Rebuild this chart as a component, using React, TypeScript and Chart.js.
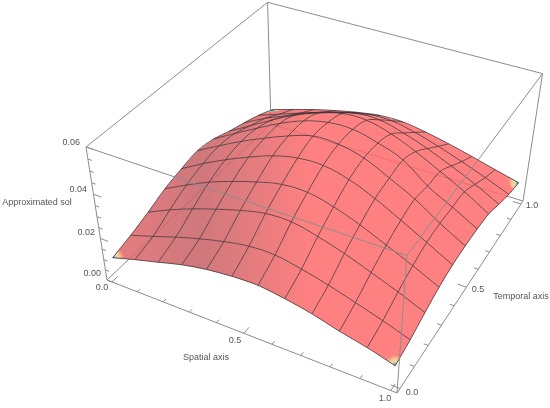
import React, { useEffect, useRef } from "react";
import { Chart, registerables } from "chart.js";

Chart.register(...registerables);

// surface mesh: spatial positions, temporal positions, approximated solution (rows = time)
const spatialMesh = [0, 0.0909, 0.1818, 0.2727, 0.3636, 0.4545, 0.5455, 0.6364, 0.7273, 0.8182, 0.9091, 1];
const temporalMesh = [0, 0.1, 0.2, 0.3, 0.4, 0.5, 0.6, 0.7, 0.8, 0.9, 1];
const solT0 = [0.0101, 0.0134, 0.0164, 0.0195, 0.0216, 0.0228, 0.0231, 0.0215, 0.0192, 0.0159, 0.0132, 0.0097];
const solT1 = [0.0125, 0.016, 0.0197, 0.023, 0.0258, 0.0278, 0.028, 0.0259, 0.023, 0.0195, 0.0158, 0.0117];
const solT2 = [0.0155, 0.0205, 0.0248, 0.0285, 0.0318, 0.0343, 0.0345, 0.032, 0.0285, 0.0242, 0.0197, 0.0147];
const solT3 = [0.019, 0.0245, 0.0295, 0.0335, 0.0369, 0.0395, 0.0397, 0.0371, 0.033, 0.028, 0.0228, 0.0172];
const solT4 = [0.0212, 0.0272, 0.0325, 0.0372, 0.0413, 0.0438, 0.0441, 0.0415, 0.0368, 0.031, 0.0249, 0.0187];
const solT5 = [0.0228, 0.0285, 0.034, 0.0388, 0.0432, 0.0465, 0.0463, 0.0437, 0.0384, 0.0327, 0.0255, 0.019];
const solT6 = [0.0215, 0.0275, 0.0333, 0.0388, 0.0432, 0.0458, 0.046, 0.0433, 0.0392, 0.031, 0.025, 0.0187];
const solT7 = [0.0185, 0.0245, 0.0305, 0.036, 0.0402, 0.0432, 0.0434, 0.0405, 0.0359, 0.0303, 0.0245, 0.0178];
const solT8 = [0.016, 0.0215, 0.026, 0.0305, 0.034, 0.0368, 0.037, 0.0342, 0.0303, 0.0256, 0.0205, 0.0146];
const solT9 = [0.0132, 0.017, 0.0208, 0.0244, 0.0275, 0.0298, 0.03, 0.0277, 0.0244, 0.0205, 0.0163, 0.0117];
const solT10 = [0.0096, 0.0129, 0.016, 0.0187, 0.021, 0.0227, 0.0228, 0.0211, 0.0187, 0.0159, 0.0129, 0.01];
const solution = [solT0, solT1, solT2, solT3, solT4, solT5, solT6, solT7, solT8, solT9, solT10];

const axisTicks = [0, 0.1, 0.2, 0.3, 0.4, 0.5, 0.6, 0.7, 0.8, 0.9, 1];
const majorAxisTicks = [0, 0.5, 1];
const zTicks = [0, 0.005, 0.01, 0.015, 0.02, 0.025, 0.03, 0.035, 0.04, 0.045, 0.05, 0.055, 0.06];
const majorZTicks = [0, 0.02, 0.04, 0.06];

// camera (box coordinates -> page)
const PAD = 0.02;
const Z_MAX = 0.06;
const camX = [248, 219.2, -29, 107];
const camY = [71.4, -130.7, -146.7, 280];
const camW = [-0.1058, 0.2037, -0.093, 1];

function project(x: number, t: number, z: number) {
  const u = (x + PAD) / (1 + 2 * PAD);
  const v = (t + PAD) / (1 + 2 * PAD);
  const s = z / Z_MAX;
  const w = camW[0] * u + camW[1] * v + camW[2] * s + camW[3];
  return {
    x: (camX[0] * u + camX[1] * v + camX[2] * s + camX[3]) / w,
    y: (camY[0] * u + camY[1] * v + camY[2] * s + camY[3]) / w,
  };
}
const L = -PAD, H = 1 + PAD;
const lineDs = (data: any[], color: string, width: number, tension = 0) => ({
  type: "scatter" as const, data, showLine: true, fill: false, borderColor: color, borderWidth: width,
  pointRadius: 0, tension, clip: false,
});

export default function App() {
  const ref = useRef<HTMLCanvasElement>(null);
  useEffect(() => {
    document.body.style.margin = "0";
    const canvas = ref.current!;
    const ctx = canvas.getContext("2d")!;
    const A = 0.85;
    const grad = ctx.createLinearGradient(113, 0, 310, 0);
    grad.addColorStop(0, `rgba(226,102,106,${A})`);
    grad.addColorStop(0.44, `rgba(198,96,101,${A})`);
    grad.addColorStop(0.75, `rgba(228,102,104,${A})`);
    grad.addColorStop(1, `rgba(255,106,106,${A})`);

    const gray = "#8c8c8c";
    const boxBack = [
      [[L, L, 0], [L, H, 0]], [[L, H, 0], [H, H, 0]], [[L, H, 0], [L, H, Z_MAX]],
      [[L, L, 0], [H, L, 0]], [[H, L, 0], [H, H, 0]], [[L, L, 0], [L, L, Z_MAX]],
      [[H, H, 0], [H, H, Z_MAX]], [[L, L, Z_MAX], [L, H, Z_MAX]], [[L, H, Z_MAX], [H, H, Z_MAX]],
    ];
    const boxFront = [
      [[L, L, Z_MAX], [H, L, Z_MAX]], [[H, L, Z_MAX], [H, H, Z_MAX]], [[H, L, 0], [H, L, Z_MAX]],
    ];
    const seg = (e: number[][]) => e.map((p) => project(p[0], p[1], p[2]));

    const layers: any[] = [];
    boxBack.forEach((e) => layers.push(lineDs(seg(e), gray, 1)));
    // axis ticks
    axisTicks.forEach((v) => {
      const len = majorAxisTicks.includes(v) ? 0.03 : 0.015;
      layers.push(lineDs([project(v, L, 0), project(v, L + len, 0)], gray, 1));
      layers.push(lineDs([project(H, v, 0), project(H - len, v, 0)], gray, 1));
    });
    zTicks.forEach((v) => {
      const len = majorZTicks.includes(v) ? 0.03 : 0.015;
      layers.push(lineDs([project(L, L, v), project(L + len, L, v)], gray, 1));
    });
    // surface, far cells first
    for (let j = temporalMesh.length - 2; j >= 0; j--) {
      for (let i = 0; i < spatialMesh.length - 1; i++) {
        layers.push({
          type: "scatter", showLine: true, fill: "shape", backgroundColor: grad, borderWidth: 0,
          borderColor: "rgba(0,0,0,0)", pointRadius: 0, tension: 0, clip: false,
          data: [
            project(spatialMesh[i], temporalMesh[j], solution[j][i]),
            project(spatialMesh[i + 1], temporalMesh[j], solution[j][i + 1]),
            project(spatialMesh[i + 1], temporalMesh[j + 1], solution[j + 1][i + 1]),
            project(spatialMesh[i], temporalMesh[j + 1], solution[j + 1][i]),
          ],
        });
      }
    }
    // rainbow corners
    const nx = spatialMesh.length - 1, nt = temporalMesh.length - 1;
    [[0, 0, 1, 1], [nx, 0, -1, 1], [nx, nt, -1, -1], [0, nt, 1, -1]].forEach(([ci, cj, di, dj]) => {
      const p0 = project(spatialMesh[ci], temporalMesh[cj], solution[cj][ci]);
      const mid = (a: any, b: any, f: number) => ({ x: a.x + (b.x - a.x) * f, y: a.y + (b.y - a.y) * f });
      const pi = project(spatialMesh[ci + di], temporalMesh[cj], solution[cj][ci + di]);
      const pj = project(spatialMesh[ci], temporalMesh[cj + dj], solution[cj + dj][ci]);
      const rg = ctx.createRadialGradient(p0.x, p0.y, 0, p0.x, p0.y, 12);
      rg.addColorStop(0, "#3b4fb0");
      rg.addColorStop(0.16, "#6fc6b0");
      rg.addColorStop(0.36, "#e8e0a8");
      rg.addColorStop(0.65, "#f9b98f");
      rg.addColorStop(1, "rgba(255,128,128,0)");
      layers.push({
        type: "scatter", showLine: true, fill: "shape", backgroundColor: rg, borderWidth: 0,
        borderColor: "rgba(0,0,0,0)", pointRadius: 0, tension: 0, clip: false,
        data: [p0, mid(p0, pi, 0.6), mid(p0, pj, 0.6)],
      });
    });
    // mesh
    const meshColor = "rgba(70,50,55,0.8)";
    solution.forEach((row, j) =>
      layers.push(lineDs(row.map((z, i) => project(spatialMesh[i], temporalMesh[j], z)), meshColor, 1, 0.35)));
    spatialMesh.forEach((x, i) =>
      layers.push(lineDs(solution.map((row, j) => project(x, temporalMesh[j], row[i])), meshColor, 1, 0.35)));
    boxFront.forEach((e) => layers.push(lineDs(seg(e), gray, 1)));
    layers.forEach((d, k) => { d.order = layers.length - k; });

    const textPlugin = {
      id: "labels",
      afterDraw(c: any) {
        const g = c.ctx;
        g.save();
        g.fillStyle = "#555555";
        g.font = '9px "Liberation Sans", sans-serif';
        g.textBaseline = "middle";
        const put = (s: string, x: number, y: number, align: CanvasTextAlign) => {
          g.textAlign = align; g.fillText(s, x, y);
        };
        put("0.00", 101, 274, "right");
        put("0.02", 95, 233, "right");
        put("0.04", 87, 190, "right");
        put("0.06", 80, 143, "right");
        put("0.0", 102, 288, "center");
        put("0.5", 235, 341, "center");
        put("1.0", 385, 399, "center");
        put("0.0", 412, 393, "center");
        put("0.5", 478, 290, "center");
        put("1.0", 532, 206, "center");
        put("Approximated sol", 37, 203, "center");
        put("Spatial axis", 206, 358, "center");
        put("Temporal axis", 521, 297, "center");
        g.restore();
      },
    };

    const chart = new Chart(canvas, {
      type: "scatter",
      data: { datasets: layers },
      options: {
        animation: false,
        responsive: false,
        events: [],
        layout: { padding: 0 },
        plugins: { legend: { display: false }, tooltip: { enabled: false }, title: { display: false } },
        scales: {
          x: { type: "linear", display: false, min: 0, max: 550 },
          y: { type: "linear", display: false, min: 0, max: 408, reverse: true },
        },
      },
      plugins: [textPlugin],
    } as any);
    return () => chart.destroy();
  }, []);
  return <canvas ref={ref} width={550} height={408} style={{ display: "block" }} />;
}
